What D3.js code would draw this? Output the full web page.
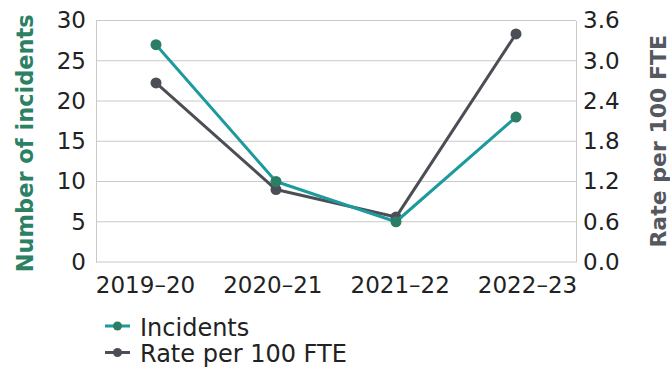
<!DOCTYPE html>
<html>
<head>
<meta charset="utf-8">
<script src="https://cdn.jsdelivr.net/npm/d3@7/dist/d3.min.js"></script>
<style>
  html, body { margin: 0; padding: 0; background: #ffffff; }
  svg { display: block; }
  text { font-family: "DejaVu Sans", sans-serif; }
</style>
</head>
<body>
<svg id="chart" width="670" height="374"></svg>
<script>
// Financial years on the x axis
const years = ["2019\u201320", "2020\u201321", "2021\u201322", "2022\u201323"];
// Number of incidents (left axis)
const incidents = [27, 10, 5, 18];
// Rate per 100 FTE (right axis)
const ratePer100 = [2.67, 1.08, 0.67, 3.4];
// Axis ticks
const leftTicks = [0, 5, 10, 15, 20, 25, 30];
const rightTicks = [0, 0.6, 1.2, 1.8, 2.4, 3.0, 3.6];
const seriesNames = ["Incidents", "Rate per 100 FTE"];

const svg = d3.select("#chart");
const m = { top: 20.5, right: 94, bottom: 112, left: 96 };
const W = 670, H = 374;
const x0 = m.left, x1 = W - m.right, y0 = H - m.bottom, y1 = m.top;

// Band scale positions the points; the category labels are spread
// edge to edge under the plot, flush with its outer borders.
const x = d3.scaleBand().domain(years).range([x0, x1]);
const xLabel = d3.scalePoint().domain(years).range([x0 + 49, x1 - 49]);
const yL = d3.scaleLinear().domain([0, 30]).range([y0, y1]);
const yR = d3.scaleLinear().domain([0, 3.6]).range([y0, y1]);

const tealLine = "#1d9a9c", tealDot = "#2b7d66";
const greyLine = "#4b4e55", greyDot = "#4b4e55";
const grid = "#c9c9c9";
const ink = "#222222";
const tickSize = 23;

// Horizontal gridlines
svg.append("g").selectAll("line").data(leftTicks).join("line")
  .attr("x1", x0).attr("x2", x1)
  .attr("y1", d => yL(d)).attr("y2", d => yL(d))
  .attr("stroke", grid).attr("stroke-width", 1);

// Left axis
const gL = svg.append("g").attr("transform", `translate(${x0},0)`)
  .call(d3.axisLeft(yL).tickValues(leftTicks).tickSize(0).tickPadding(10));
// Right axis
const gR = svg.append("g").attr("transform", `translate(${x1},0)`)
  .call(d3.axisRight(yR).tickValues(rightTicks).tickSize(0).tickPadding(7)
    .tickFormat(d3.format(".1f")));
// Bottom axis
const gB = svg.append("g").attr("transform", `translate(0,${y0})`)
  .call(d3.axisBottom(xLabel).tickSize(0).tickPadding(15));
gB.select(".domain").remove();

[gL, gR].forEach(g => g.select(".domain").attr("stroke", grid).attr("stroke-width", 1));
[gL, gR, gB].forEach(g => g.selectAll("text")
  .attr("font-size", tickSize).attr("fill", ink)
  .style("font-family", "'DejaVu Sans', sans-serif"));

// Axis titles
svg.append("text")
  .attr("transform", `translate(33,${(y0 + y1) / 2 + 2}) rotate(-90)`)
  .attr("text-anchor", "middle")
  .attr("font-size", 22.5).attr("font-weight", 700)
  .attr("fill", "#2c8064")
  .text("Number of incidents");
svg.append("text")
  .attr("transform", `translate(666,${(y0 + y1) / 2}) rotate(-90)`)
  .attr("text-anchor", "middle")
  .attr("font-size", 22).attr("font-weight", 700)
  .attr("fill", "#55585e")
  .text("Rate per 100 FTE");

const cx = d => x(d) + x.bandwidth() / 2;

function drawSeries(values, yScale, lineColor, dotColor) {
  const pts = years.map((yr, i) => [cx(yr), yScale(values[i])]);
  svg.append("path")
    .attr("d", d3.line()(pts))
    .attr("fill", "none").attr("stroke", lineColor)
    .attr("stroke-width", 3).attr("stroke-linejoin", "round");
  svg.append("g").selectAll("circle").data(pts).join("circle")
    .attr("cx", d => d[0]).attr("cy", d => d[1]).attr("r", 5.5)
    .attr("fill", dotColor);
}

drawSeries(ratePer100, yR, greyLine, greyDot);
drawSeries(incidents, yL, tealLine, tealDot);

// Legend
const legend = svg.append("g");
const legendItems = [
  { name: seriesNames[0], line: tealLine, dot: tealDot, y: 326 },
  { name: seriesNames[1], line: greyLine, dot: greyDot, y: 352.5 }
];
legendItems.forEach(it => {
  legend.append("line").attr("x1", 105).attr("x2", 130)
    .attr("y1", it.y).attr("y2", it.y)
    .attr("stroke", it.line).attr("stroke-width", 3);
  legend.append("circle").attr("cx", 117.5).attr("cy", it.y).attr("r", 4.5)
    .attr("fill", it.dot);
  legend.append("text").attr("x", 140).attr("y", it.y + 9.5)
    .attr("font-size", 24).attr("fill", ink)
    .text(it.name);
});
</script>
</body>
</html>
